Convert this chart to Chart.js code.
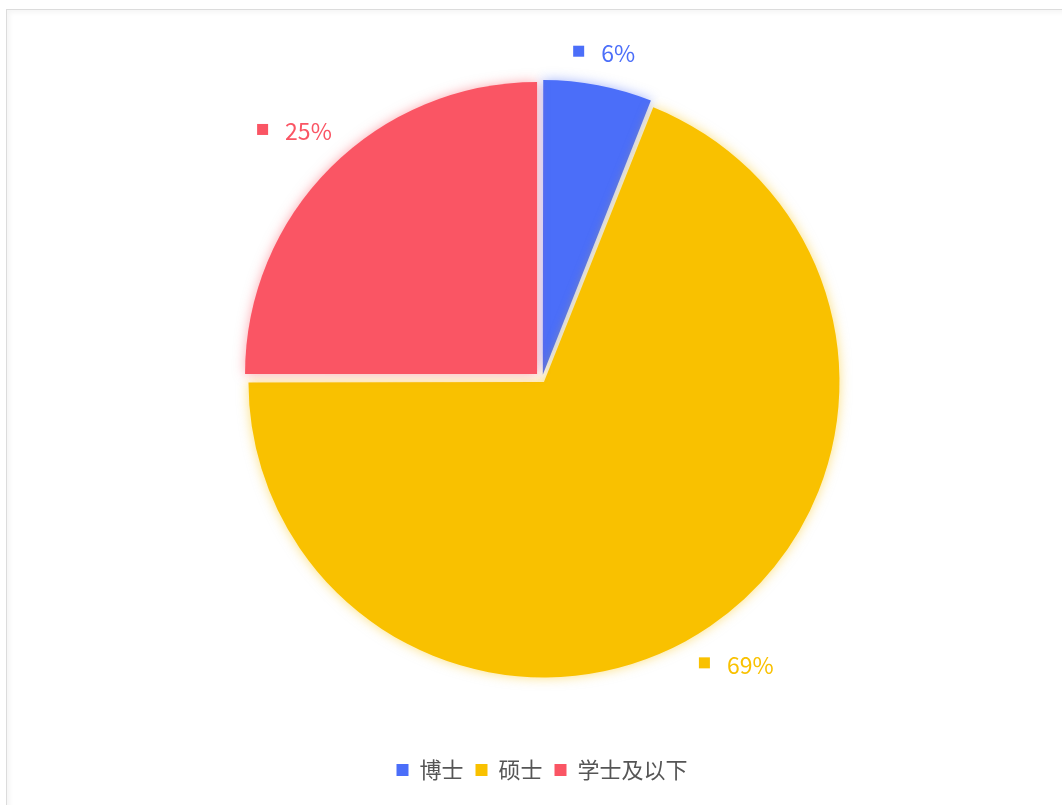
<!DOCTYPE html>
<html>
<head>
<meta charset="utf-8">
<script src="https://cdn.jsdelivr.net/npm/chart.js@4/dist/chart.umd.min.js"></script>
<style>
  html, body { margin: 0; padding: 0; background: #fff; overflow: hidden; }
  #frame { position: absolute; left: 6px; top: 9px; width: 2000px; height: 2000px;
           border-top: 1px solid #dcdcdc; border-left: 1px solid #dcdcdc;
           box-shadow: inset 3px 3px 4px rgba(0,0,0,0.04); }
  #wrap { position: absolute; left: 0; top: 0; width: 1062px; height: 805px; }
</style>
</head>
<body>
<div id="frame"></div>
<div id="wrap"><canvas id="c"></canvas></div>
<script>
const categories = ['博士', '硕士', '学士及以下'];
const values = [6, 69, 25];
const colors = ['#4b6ef9', '#f9c100', '#fa5564'];

const FONT = '"Noto Sans CJK SC", "Noto Sans", sans-serif';
const GAP = 7; // how far each slice is pulled out from the centre

function rgba(hex, a) {
  const n = parseInt(hex.slice(1), 16);
  return `rgba(${(n >> 16) & 255},${(n >> 8) & 255},${n & 255},${a})`;
}

// Chart.js moves an arc by offset/4*(1+fix); invert that so every slice moves GAP px
function sliceOffset(ctx) {
  const total = values.reduce((a, b) => a + b, 0);
  const circ = values[ctx.dataIndex] / total * Math.PI * 2;
  const fix = 1 - Math.sin(Math.min(Math.PI, circ));
  return 4 * GAP / (1 + fix);
}

// soft coloured glow around each slice
const origArcDraw = Chart.ArcElement.prototype.draw;
Chart.ArcElement.prototype.draw = function (ctx) {
  ctx.save();
  ctx.shadowColor = rgba(this.options.backgroundColor, 0.5);
  ctx.shadowBlur = 12;
  origArcDraw.call(this, ctx);
  ctx.restore();
};

const outerLabels = {
  id: 'outerLabels',
  afterDatasetsDraw(chart) {
    const ctx = chart.ctx;
    const meta = chart.getDatasetMeta(0);
    const total = values.reduce((a, b) => a + b, 0);
    ctx.save();
    ctx.font = '23px ' + FONT;
    ctx.textBaseline = 'middle';
    meta.data.forEach((arc, i) => {
      const p = arc.getProps(['x', 'y', 'startAngle', 'endAngle', 'outerRadius']);
      const mid = (p.startAngle + p.endAngle) / 2;
      const txt = Math.round(values[i] / total * 100) + '%';
      const sq = 11, gap = 17;
      const w = sq + gap + ctx.measureText(txt).width;
      const h = 16;
      const c = Math.cos(mid), s = Math.sin(mid);
      const proj = Math.abs(c) * w / 2 + Math.abs(s) * h / 2;
      const r = p.outerRadius + GAP + 19 + proj;
      const cx = p.x + c * r, cy = p.y + s * r;
      const left = cx - w / 2;
      ctx.fillStyle = colors[i];
      ctx.fillRect(left, cy - sq / 2 - 2, sq, sq);
      ctx.textAlign = 'left';
      ctx.fillText(txt, left + sq + gap, cy);
    });
    ctx.restore();
  }
};

new Chart(document.getElementById('c'), {
  type: 'pie',
  data: {
    labels: categories,
    datasets: [{
      data: values,
      backgroundColor: colors,
      borderWidth: 0,
      offset: sliceOffset,
      hoverOffset: 0
    }]
  },
  options: {
    responsive: true,
    maintainAspectRatio: false,
    animation: false,
    radius: 292,
    layout: { padding: { top: 11, left: 22, right: 0, bottom: 14 } },
    plugins: {
      tooltip: { enabled: false },
      legend: {
        position: 'bottom',
        labels: {
          boxWidth: 12, boxHeight: 12, padding: 12,
          color: '#555',
          font: { size: 22, family: FONT }
        }
      }
    }
  },
  plugins: [outerLabels]
});
</script>
</body>
</html>
